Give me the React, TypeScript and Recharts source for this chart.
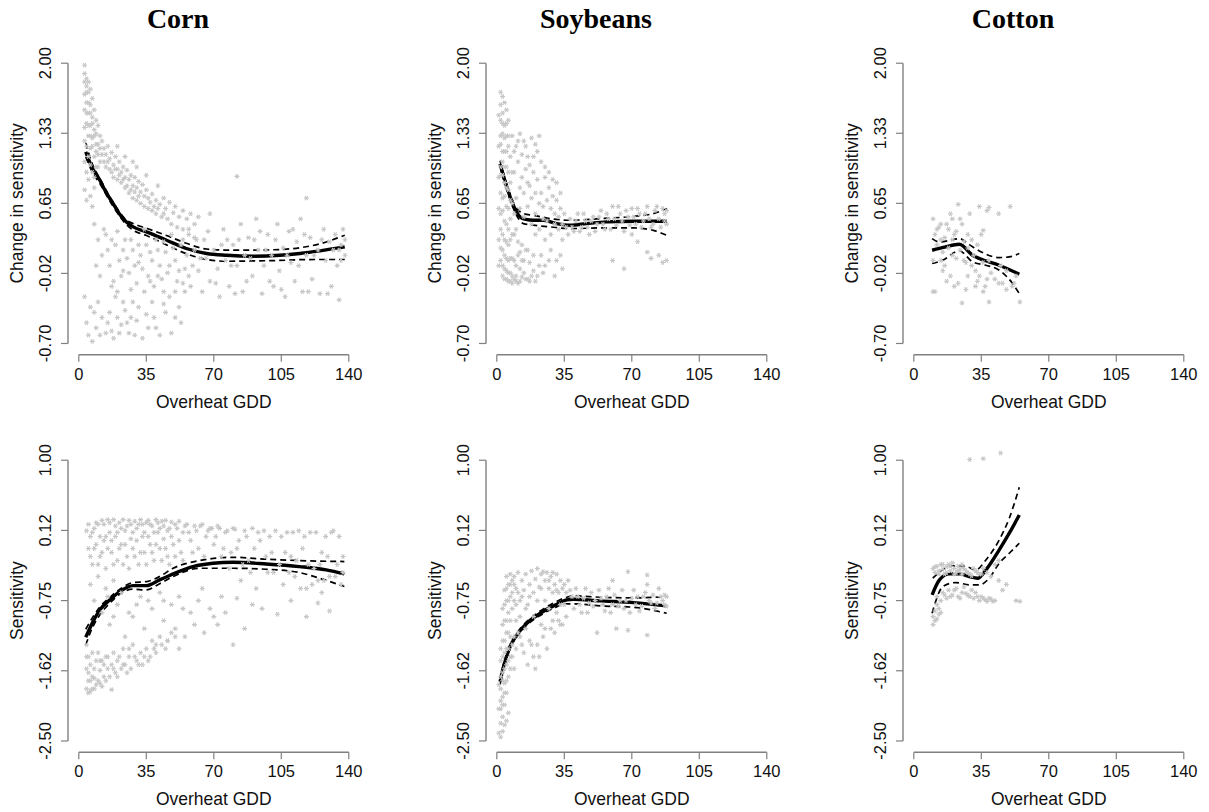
import React from "react";
import { ComposedChart, Scatter, Line, XAxis, YAxis, ReferenceLine } from "recharts";

// tick values and labels
const xTicks = [0, 35, 70, 105, 140];
const changeTicks = [-0.7, -0.025, 0.65, 1.325, 2.0];
const changeLabels = ["-0.70", "-0.02", "0.65", "1.33", "2.00"];
const sensTicks = [-2.5, -1.625, -0.75, 0.125, 1.0];
const sensLabels = ["-2.50", "-1.62", "-0.75", "0.12", "1.00"];
const crops = ["Corn", "Soybeans", "Cotton"];

type Pt = [number, number];

// ---- Change in sensitivity (top row) ----
const cornChangePoints: Pt[] = [
  [3, 1.98], [3, 1.9], [4, 1.85], [4, 1.78], [5, 1.82], [3, 1.7], [5, 1.72], [6, 1.75], [4, 1.62], [6, 1.6],
  [7, 1.66], [3, 1.55], [5, 1.52], [8, 1.55], [7, 1.48], [4, 1.42], [6, 1.4], [9, 1.45], [8, 1.36], [10, 1.4],
  [5, 1.3], [7, 1.28], [11, 1.3], [9, 1.22], [12, 1.25], [4, 1.2], [6, 1.18], [3, 1.05], [4, 0.95], [5, 0.88],
  [3, 0.78], [6, 0.72], [4, 0.68], [7, 0.62], [8, 0.8], [9, 1.0], [10, 1.12], [11, 1.05],
  [3, 1.82], [4, 1.72], [5, 1.62], [6, 1.52], [7, 1.42], [8, 1.3], [9, 1.32], [10, 1.22], [11, 1.18], [12, 1.12],
  [13, 1.05], [5, 1.1], [6, 1.02], [7, 0.95], [8, 0.9], [5, 1.4], [6, 1.3], [7, 1.2], [8, 1.1], [9, 1.15],
  [10, 1.0], [4, 1.52], [3, 1.38], [3, 1.25],
  [13, 1.18], [14, 1.12], [15, 1.2], [16, 1.08], [17, 1.14], [18, 1.02], [19, 1.1], [20, 0.98], [21, 1.05], [22, 0.95],
  [23, 1.0], [24, 0.9], [25, 0.97], [26, 0.88], [27, 0.92], [28, 0.82], [29, 0.9], [30, 0.8], [31, 0.86], [32, 0.76],
  [33, 0.83], [34, 0.72], [35, 0.78], [36, 0.7], [38, 0.74], [40, 0.68], [41, 0.82], [42, 0.64], [44, 0.7], [45, 0.6],
  [47, 0.66], [49, 0.56], [50, 0.62], [52, 0.52], [54, 0.58], [56, 0.5], [58, 0.55], [60, 0.45], [62, 0.52], [20, 1.2],
  [24, 1.1], [30, 1.0], [28, 1.05], [35, 0.92],
  [14, 1.0], [16, 0.98], [18, 0.9], [20, 0.88], [22, 0.85], [24, 0.8], [26, 0.75], [28, 0.7], [30, 0.68], [32, 0.65],
  [34, 0.62], [36, 0.6], [38, 0.58], [40, 0.55], [43, 0.52], [46, 0.5], [48, 0.45], [51, 0.42], [54, 0.4], [57, 0.35],
  [60, 0.32], [15, 1.05], [17, 0.95], [19, 0.98], [21, 0.92], [23, 0.88], [25, 0.82], [27, 0.78], [29, 0.76], [31, 0.72],
  [37, 0.66], [39, 0.62], [41, 0.6], [44, 0.55],
  [8, 0.45], [10, 0.3], [12, 0.15], [9, 0.05], [11, -0.05], [14, 0.35], [15, 0.2], [16, 0.05], [18, -0.1], [19, 0.25],
  [21, 0.1], [22, -0.05], [24, 0.3], [25, 0.12], [26, -0.02], [28, 0.2], [29, 0.05], [30, -0.12], [32, 0.15], [33, 0.02],
  [35, 0.25], [36, -0.05], [38, 0.1], [39, -0.15], [40, 0.3], [42, 0.05], [43, -0.08], [45, 0.18], [46, -0.02], [48, 0.35],
  [50, 0.1], [51, -0.1], [53, 0.25], [55, 0.02], [57, 0.4], [58, -0.15], [60, 0.2],
  [13, 0.4], [17, 0.3], [20, 0.38], [23, 0.2], [27, 0.3], [31, 0.25], [34, 0.4], [37, 0.18], [41, 0.2], [44, 0.28],
  [47, 0.05], [49, 0.22], [52, 0.0], [54, 0.3], [56, 0.15], [59, 0.05], [61, 0.3], [63, 0.12], [17, -0.15], [20, -0.2],
  [23, 0.0], [27, -0.18], [31, 0.08], [34, -0.2], [37, -0.1], [41, -0.05], [44, -0.2], [50, -0.2], [54, -0.12], [57, -0.05],
  [3, -0.25], [4, -0.5], [5, -0.62], [6, -0.35], [7, -0.68], [9, -0.55], [10, -0.3], [12, -0.45], [14, -0.6], [16, -0.4],
  [18, -0.65], [19, -0.25], [22, -0.52], [24, -0.38], [26, -0.6], [28, -0.3], [30, -0.48], [33, -0.65], [35, -0.42], [38, -0.3],
  [40, -0.55], [42, -0.62], [45, -0.4], [47, -0.25], [48, -0.6], [50, -0.45], [52, -0.35], [55, -0.2],
  [8, -0.4], [11, -0.62], [15, -0.5], [17, -0.58], [20, -0.45], [21, -0.6], [23, -0.3], [25, -0.5], [27, -0.45], [29, -0.62],
  [31, -0.35], [36, -0.55], [39, -0.45], [44, -0.32], [53, -0.5],
  [62, 0.0], [64, -0.2], [65, 0.3], [66, 0.12], [68, 0.55], [68, -0.1], [70, 0.2], [72, 0.02], [73, -0.25], [75, 0.4],
  [76, 0.1], [82, 0.91], [78, -0.15], [80, 0.25], [82, 0.05], [84, 0.45], [85, -0.2], [86, 0.15], [88, 0.32], [90, -0.05],
  [92, 0.5], [93, 0.2], [95, -0.22], [96, 0.05], [98, 0.35], [100, 0.15], [101, -0.15], [103, 0.45], [104, 0.0], [106, 0.22],
  [107, -0.25], [109, 0.38], [110, 0.08], [112, -0.1], [113, 0.28], [115, 0.5], [116, -0.2], [118, 0.15], [120, 0.32], [121, -0.08],
  [118, 0.7], [124, 0.2], [125, -0.22], [127, 0.4], [128, 0.1], [130, 0.28], [131, -0.15], [133, 0.35], [134, 0.05], [135, -0.28],
  [136, 0.25], [137, 0.4], [138, 0.15], [135, 0.2],
  [67, 0.38], [71, -0.12], [74, 0.25], [77, 0.3], [79, 0.05], [81, -0.22], [83, 0.3], [87, -0.1], [89, 0.12], [91, 0.3],
  [94, 0.38], [97, 0.2], [99, -0.1], [102, 0.3], [105, -0.18], [108, 0.15], [111, 0.4], [114, 0.05], [117, 0.35], [119, -0.2],
  [122, 0.15], [126, 0.3], [129, -0.22], [132, 0.2], [136, 0.1], [138, 0.3],
];
const cornChangeFit: Pt[] = [
  [3.6, 1.145], [7, 0.99], [10.9, 0.873], [14, 0.76], [17.8, 0.648], [21, 0.55], [24.7, 0.471], [28.2, 0.423], [35.1, 0.375],
  [45.5, 0.295], [55.8, 0.215], [66.2, 0.167], [76.6, 0.15], [90.4, 0.141], [104.2, 0.15], [114.6, 0.167], [125, 0.192], [137.9, 0.23],
];
const cornChangeUpper: Pt[] = [
  [3.6, 1.232], [7, 1.03], [10.9, 0.89], [17.8, 0.66], [24.7, 0.49], [28.2, 0.455], [35.1, 0.41], [45.5, 0.34], [55.8, 0.265],
  [66.2, 0.21], [76.6, 0.2], [90.4, 0.2], [104.2, 0.205], [114.6, 0.222], [125, 0.26], [137.9, 0.343],
];
const cornChangeLower: Pt[] = [
  [3.6, 1.097], [7, 0.95], [10.9, 0.84], [17.8, 0.62], [24.7, 0.445], [28.2, 0.39], [35.1, 0.34], [45.5, 0.25], [55.8, 0.165],
  [66.2, 0.11], [76.6, 0.092], [90.4, 0.095], [104.2, 0.1], [114.6, 0.107], [125, 0.109], [137.9, 0.109],
];

const soyChangePoints: Pt[] = [
  [2, 1.72], [3, 1.68], [2, 1.6], [4, 1.62], [3, 1.52], [5, 1.55], [2, 1.45], [4, 1.4], [6, 1.45], [3, 1.32],
  [5, 1.3], [2, 1.22], [4, 1.15], [6, 1.2], [3, 1.05], [5, 1.0], [7, 1.1], [2, 0.92], [4, 0.85], [6, 0.78],
  [3, 0.7], [5, 0.62], [7, 0.68], [2, 0.55], [4, 0.48], [6, 0.4], [3, 0.35], [5, 0.28], [7, 0.3], [2, 0.22],
  [4, 0.15], [6, 0.1], [3, 0.05], [5, 0.0], [7, -0.02], [4, -0.08], [6, -0.1], [8, -0.05], [9, -0.08], [10, -0.1],
  [11, -0.12], [12, -0.1], [13, -0.06], [14, -0.02], [16, -0.08], [18, -0.05], [20, -0.1], [8, 0.12], [10, 0.05], [12, 0.18],
  [9, 0.35], [11, 0.28], [13, 0.1], [15, 0.2], [17, 0.08], [19, 0.15], [22, 0.05], [24, -0.02], [27, 0.1], [30, -0.05], [33, 0.15],
  [1, 1.5], [1, 1.2], [1, 0.9], [1, 0.6], [1, 0.3], [1, 0.05], [2, 1.3], [2, 1.0], [2, 0.75], [2, 0.4],
  [2, 0.1], [3, 1.42], [3, 1.15], [3, 0.92], [3, 0.58], [3, 0.2], [3, -0.05], [4, 1.28], [4, 1.0], [4, 0.72],
  [4, 0.3], [4, 0.02], [5, 1.42], [5, 1.15], [5, 0.8], [5, 0.45], [5, 0.12], [5, -0.08], [6, 1.3], [6, 0.95],
  [6, 0.6], [6, 0.25], [6, -0.02], [7, 0.85], [7, 0.5], [7, 0.12], [7, -0.1], [8, 0.95], [8, 0.65], [8, 0.35],
  [8, -0.12], [9, 0.55], [9, 0.1], [10, 0.4], [10, -0.05], [11, 0.15], [12, 0.02], [13, 0.25], [14, 0.1], [15, -0.08],
  [16, 0.2], [17, -0.1], [19, 0.0], [21, -0.05], [23, 0.15], [25, 0.05], [28, 0.2], [31, 0.1], [34, 0.02],
  [8, 1.3], [10, 1.2], [12, 1.32], [14, 1.25], [16, 1.1], [18, 1.28], [20, 1.22], [22, 1.3], [9, 0.95], [11, 1.05],
  [13, 0.9], [15, 0.98], [17, 0.82], [19, 0.95], [21, 0.88], [23, 0.75], [25, 0.9], [27, 0.8], [29, 0.72], [31, 0.68],
  [33, 0.75], [10, 0.7], [12, 0.6], [14, 0.52], [16, 0.62], [18, 0.45], [20, 0.55], [22, 0.4], [24, 0.62], [26, 0.48],
  [28, 0.35], [30, 0.55], [32, 0.4], [34, 0.3], [36, 0.42],
  [9, 1.15], [11, 1.25], [13, 1.12], [15, 1.2], [17, 1.02], [19, 1.1], [21, 1.15], [23, 1.05], [25, 1.0], [27, 0.95],
  [29, 0.88], [31, 0.85], [33, 0.6], [35, 0.55], [12, 0.8], [14, 0.75], [16, 0.85], [18, 0.7], [20, 0.75], [22, 0.65],
  [24, 0.5], [26, 0.68], [28, 0.6], [30, 0.45], [32, 0.52], [34, 0.45], [20, 0.35], [25, 0.3],
  [38, 0.5], [40, 0.38], [42, 0.55], [44, 0.42], [46, 0.48], [48, 0.35], [50, 0.52], [52, 0.45], [54, 0.58], [56, 0.4],
  [58, 0.5], [60, 0.62], [62, 0.44], [64, 0.55], [66, 0.38], [68, 0.52], [70, 0.6], [72, 0.45], [74, 0.55], [76, 0.48],
  [78, 0.62], [80, 0.42], [82, 0.58], [84, 0.5], [86, 0.6], [88, 0.45], [87, 0.55],
  [37, 0.35], [39, 0.42], [41, 0.48], [43, 0.38], [45, 0.55], [47, 0.42], [49, 0.48], [51, 0.38], [53, 0.52], [55, 0.45],
  [57, 0.55], [59, 0.4], [61, 0.5], [63, 0.62], [65, 0.48], [67, 0.58], [69, 0.44], [71, 0.52], [73, 0.6], [75, 0.42],
  [77, 0.55], [79, 0.5], [81, 0.45], [83, 0.62], [85, 0.42], [87, 0.48], [88, 0.58],
  [60, 0.1], [66, 0.02], [73, 0.28], [78, 0.18], [80, 0.12], [84, 0.15], [86, 0.08], [88, 0.1], [70, 0.35],
];
const soyChangeFit: Pt[] = [
  [1.7, 1.032], [5.2, 0.807], [8.6, 0.631], [12.1, 0.519], [15, 0.495], [19, 0.487], [24.2, 0.487], [31.1, 0.455],
  [38, 0.439], [46.7, 0.455], [57, 0.471], [70.9, 0.477], [88.1, 0.477],
];
const soyChangeUpper: Pt[] = [
  [1.7, 1.06], [5.2, 0.83], [8.6, 0.66], [13.8, 0.55], [19, 0.535], [27.7, 0.503], [38, 0.487], [53.6, 0.503],
  [70.9, 0.525], [81.2, 0.551], [88.1, 0.599],
];
const soyChangeLower: Pt[] = [
  [1.7, 1.0], [5.2, 0.78], [8.6, 0.6], [13.8, 0.455], [19, 0.44], [27.7, 0.423], [38, 0.407], [53.6, 0.413],
  [70.9, 0.413], [81.2, 0.39], [88.1, 0.342],
];

const cottonChangePoints: Pt[] = [
  [10, 0.5], [11, 0.35], [12, 0.25], [10, 0.1], [11, -0.2], [13, 0.42], [14, 0.3], [15, 0.18], [16, 0.05], [17, 0.45],
  [18, 0.22], [19, -0.05], [20, 0.5], [21, 0.35], [22, 0.12], [23, -0.12], [23, 0.64], [25, 0.45], [26, 0.28], [27, 0.08],
  [28, -0.05], [29, 0.55], [30, 0.3], [31, 0.15], [32, 0.0], [33, -0.1], [34, 0.62], [35, 0.35], [36, 0.08], [37, -0.15],
  [38, 0.58], [39, 0.1], [40, -0.02], [39, 0.61], [42, -0.08], [44, 0.55], [45, 0.05], [46, -0.12], [48, 0.0], [50, 0.62],
  [51, -0.15], [53, -0.05], [55, -0.3], [25, -0.31], [10, -0.2], [39, -0.3], [14, 0.1], [20, 0.15], [28, 0.22], [36, 0.39],
  [12, 0.4], [14, 0.45], [16, 0.32], [18, 0.4], [20, 0.3], [22, 0.38], [24, 0.2], [26, 0.1], [28, 0.35], [30, 0.05],
  [32, -0.15], [34, -0.05], [36, -0.2], [38, -0.08], [15, 0.0], [17, -0.1], [21, -0.15], [27, -0.18], [33, 0.25], [44, -0.12],
  [48, -0.18], [52, -0.12], [19, 0.55], [24, 0.5],
];
const cottonChangeFit: Pt[] = [
  [9.5, 0.198], [16, 0.228], [23.6, 0.256], [30.5, 0.15], [34, 0.118], [44.3, 0.054], [54.7, -0.033],
];
const cottonChangeUpper: Pt[] = [
  [9.5, 0.31], [13.3, 0.278], [18, 0.29], [23.6, 0.31], [29, 0.25], [34, 0.192], [44.3, 0.128], [49.5, 0.134], [54.7, 0.166],
];
const cottonChangeLower: Pt[] = [
  [9.5, 0.07], [15, 0.102], [23.6, 0.192], [30.5, 0.086], [37.4, 0.054], [44.3, 0.006], [51.2, -0.122], [54.7, -0.219],
];

// ---- Sensitivity (bottom row) ----
const cornSensPoints: Pt[] = [
  [4, 0.12], [5, -0.1], [6, 0.05], [7, -0.3], [8, 0.15], [9, -0.05], [10, 0.2], [11, -0.2], [12, 0.25], [13, 0.0],
  [14, -0.35], [15, 0.26], [16, 0.1], [17, -0.15], [18, 0.26], [19, 0.05], [20, -0.25], [21, 0.22], [22, -0.05], [23, 0.26],
  [24, 0.12], [25, -0.2], [26, 0.25], [27, 0.02], [28, -0.1], [29, 0.24], [30, 0.15], [31, -0.3], [32, 0.26], [33, 0.05],
  [34, -0.15], [35, 0.22], [36, 0.25], [37, -0.05], [38, 0.18], [39, -0.25], [40, 0.26], [41, 0.1], [42, -0.1], [43, 0.24],
  [44, 0.02], [45, 0.25], [46, -0.2], [47, 0.15], [48, 0.23], [49, -0.05], [50, 0.2], [52, 0.24], [53, -0.15], [54, 0.1],
  [56, 0.2], [58, 0.0], [60, 0.18], [62, -0.1], [64, 0.2], [66, 0.05], [68, 0.15], [70, -0.05], [6, -0.55], [10, -0.45],
  [14, -0.6], [18, -0.5], [8, -0.75],
  [5, 0.2], [6, -0.2], [7, 0.1], [8, -0.1], [9, 0.22], [10, -0.3], [11, 0.05], [12, -0.15], [13, 0.2], [14, 0.05],
  [15, -0.1], [16, 0.22], [17, 0.0], [18, -0.3], [19, 0.18], [20, 0.1], [21, -0.1], [22, 0.15], [23, -0.3], [24, -0.05],
  [25, 0.18], [26, -0.35], [27, 0.2], [28, 0.1], [29, -0.2], [30, 0.0], [31, 0.2], [32, -0.15], [33, 0.2], [34, 0.1],
  [35, -0.3], [36, 0.05], [37, 0.2], [38, -0.15], [39, 0.1], [40, -0.05], [41, 0.22], [42, 0.15], [43, -0.25], [44, 0.18],
  [45, -0.1], [46, 0.12], [47, -0.3], [48, 0.05], [50, -0.2], [51, 0.15], [52, 0.0], [54, -0.25], [55, 0.18], [57, 0.1],
  [59, -0.15], [61, 0.12], [63, 0.18], [65, -0.2], [67, 0.12], [69, 0.15], [71, 0.05], [73, 0.15], [75, -0.1], [77, 0.12],
  [79, -0.15], [81, 0.14], [83, 0.0], [85, -0.3], [87, 0.05], [89, -0.4], [91, -0.1], [93, 0.1], [97, -0.2], [99, 0.05],
  [101, -0.4], [105, 0.05], [107, -0.15], [109, -0.4], [111, 0.1], [113, -0.25], [115, -0.6], [117, 0.05], [119, -0.3], [121, -0.55],
  [123, 0.1], [125, -0.3], [127, -0.5], [129, -0.2], [131, 0.1], [133, -0.45], [135, 0.05], [137, -0.4],
  [72, 0.18], [74, -0.2], [76, 0.1], [78, -0.35], [80, 0.15], [82, -0.1], [84, -0.5], [86, 0.12], [88, -0.25], [90, 0.15],
  [92, -0.6], [94, 0.0], [96, 0.12], [98, -0.4], [100, -0.15], [102, 0.12], [104, -0.3], [106, -0.55], [108, 0.1], [110, -0.2],
  [112, -0.45], [114, 0.12], [116, -0.1], [118, -0.6], [120, 0.1], [122, -0.35], [124, -0.5], [126, -0.15], [128, 0.05], [130, -0.45],
  [132, 0.12], [134, -0.3], [136, -0.55], [137, -0.2], [124, -0.78], [118, -0.95], [130, -0.88], [95, -0.85], [103, -0.92], [82, -0.72],
  [86, -1.1],
  [12, -0.9], [16, -1.05], [20, -0.8], [24, -1.2], [28, -0.95], [32, -0.7], [34, -1.1], [38, -0.85], [40, -1.3], [42, -0.65],
  [44, -1.0], [46, -1.25], [48, -0.8], [50, -1.1], [52, -0.7], [55, -1.2], [58, -0.9], [60, -1.05], [62, -0.75], [65, -1.15],
  [68, -0.85], [72, -1.05], [76, -0.9], [80, -1.3],
  [15, -0.7], [18, -0.95], [22, -0.65], [26, -0.9], [30, -0.8], [36, -0.75], [44, -0.75], [54, -0.85], [64, -0.6], [70, -0.95],
  [74, -0.7], [90, -0.8], [110, -0.75], [126, -0.65],
  [4, -1.3], [4, -1.6], [4, -1.85], [5, -1.45], [5, -1.75], [5, -1.9], [6, -1.55], [6, -1.88], [7, -1.4], [7, -1.7],
  [8, -1.6], [8, -1.85], [9, -1.5], [10, -1.75], [10, -1.4], [11, -1.62], [12, -1.5], [12, -1.82], [13, -1.7], [14, -1.45],
  [15, -1.6], [17, -1.86], [17, -1.55], [18, -1.4], [19, -1.65], [20, -1.5], [22, -1.6], [23, -1.35], [24, -1.55], [26, -1.45],
  [27, -1.6], [28, -1.3], [30, -1.5], [32, -1.4], [33, -1.55], [35, -1.35], [37, -1.45], [38, -1.25], [40, -1.4], [42, -1.2],
  [45, -1.35], [48, -1.15], [52, -1.35],
  [4, -1.45], [5, -1.65], [6, -1.75], [7, -1.85], [8, -1.72], [9, -1.8], [11, -1.5], [11, -1.78], [13, -1.55], [14, -1.75],
  [15, -1.45], [16, -1.7], [18, -1.6], [20, -1.7], [21, -1.45], [23, -1.55], [25, -1.65], [26, -1.35], [29, -1.45], [31, -1.55],
  [34, -1.45], [36, -1.5], [39, -1.35], [43, -1.3], [46, -1.25], [50, -1.2],
];
const cornSensFit: Pt[] = [
  [3.6, -1.207], [7.4, -1.012], [10.9, -0.866], [16.1, -0.741], [21.2, -0.638], [28.1, -0.563], [35, -0.563], [41.9, -0.492],
  [50.6, -0.401], [59.2, -0.326], [69.6, -0.284], [80, -0.272], [97.2, -0.293], [114.4, -0.326], [128.3, -0.367], [137.7, -0.417],
];
const cornSensUpper: Pt[] = [
  [3.6, -1.107], [7.4, -0.95], [10.9, -0.83], [16.1, -0.71], [21.2, -0.61], [28.1, -0.525], [35, -0.513], [41.9, -0.45],
  [48.9, -0.347], [62.7, -0.251], [80, -0.21], [97.2, -0.234], [114.4, -0.251], [137.7, -0.263],
];
const cornSensLower: Pt[] = [
  [3.6, -1.303], [7.4, -1.07], [10.9, -0.928], [16.1, -0.78], [21.2, -0.67], [28.1, -0.608], [35, -0.617], [41.9, -0.54],
  [48.9, -0.45], [62.7, -0.347], [80, -0.347], [97.2, -0.359], [114.4, -0.4], [124.8, -0.471], [137.7, -0.575],
];

const soySensPoints: Pt[] = [
  [2, -2.45], [3, -2.38], [2, -2.28], [4, -2.3], [3, -2.2], [5, -2.25], [2, -2.1], [4, -2.05], [6, -2.15], [3, -1.95],
  [5, -1.9], [2, -1.85], [4, -1.78], [6, -1.7], [3, -1.65], [5, -1.55], [7, -1.6], [2, -1.5], [4, -1.4], [6, -1.35],
  [3, -1.25], [5, -1.15], [7, -1.2], [4, -1.0], [6, -0.9], [3, -0.85], [5, -0.75], [7, -0.7], [6, -0.55], [4, -0.62],
  [8, -0.5], [5, -0.45], [7, -0.42], [8, -1.45], [9, -1.6],
  [1, -2.4], [1, -2.1], [1, -1.8], [2, -2.0], [2, -1.7], [2, -1.35], [3, -2.05], [3, -1.75], [3, -1.45], [3, -1.05],
  [4, -1.9], [4, -1.6], [4, -1.25], [4, -0.8], [5, -1.75], [5, -1.35], [5, -1.0], [5, -0.6], [6, -1.5], [6, -1.15],
  [6, -0.75], [7, -1.45], [7, -1.0], [7, -0.55], [8, -1.3], [8, -0.85], [8, -0.65], [9, -1.2], [9, -0.75], [9, -0.55],
  [10, -1.35], [10, -0.8], [11, -1.15], [11, -0.65], [13, -1.3], [13, -0.7], [15, -0.85], [17, -0.7], [17, -1.25], [19, -1.45],
  [21, -0.75], [21, -1.3], [23, -0.6], [25, -0.75], [25, -1.1], [27, -0.5], [29, -0.65], [29, -1.0], [31, -0.62], [33, -0.8],
  [33, -1.05], [36, -0.65], [37, -0.5],
  [9, -0.45], [10, -0.6], [11, -0.4], [12, -0.75], [13, -0.5], [14, -0.62], [15, -0.42], [16, -0.8], [17, -0.55], [18, -0.38],
  [19, -0.65], [20, -0.48], [21, -0.35], [22, -0.58], [23, -0.42], [24, -0.39], [25, -0.5], [26, -0.4], [27, -0.6], [28, -0.45],
  [29, -0.4], [30, -0.55], [31, -0.42], [32, -0.65], [33, -0.5], [34, -0.6], [35, -0.55], [10, -1.0], [12, -1.2], [14, -1.4],
  [16, -1.55], [18, -1.3], [20, -1.6], [22, -1.45], [24, -1.2], [26, -1.35], [28, -1.1], [30, -1.15], [32, -1.0], [34, -1.05],
  [36, -0.95], [12, -0.95], [15, -1.1], [19, -0.95], [23, -1.05], [27, -0.85], [31, -0.9], [35, -0.8],
  [38, -0.62], [40, -0.85], [42, -0.7], [44, -0.9], [46, -0.6], [48, -0.78], [50, -0.82], [52, -1.15], [54, -0.72], [56, -0.88],
  [58, -0.6], [60, -0.8], [62, -1.1], [64, -0.75], [66, -0.85], [68, -1.12], [70, -0.72], [72, -0.8], [74, -0.88], [76, -0.7],
  [78, -0.55], [78, -1.18], [80, -0.78], [82, -0.85], [84, -0.6], [86, -0.75], [88, -0.82], [87, -0.68], [68, -0.39], [78, -0.43],
  [60, -0.5],
  [39, -0.7], [41, -0.6], [43, -0.8], [45, -0.72], [47, -0.9], [49, -0.65], [51, -0.75], [53, -0.62], [55, -0.8], [57, -0.7],
  [59, -0.9], [61, -0.68], [63, -0.82], [65, -0.62], [67, -0.75], [69, -0.9], [71, -0.62], [73, -0.7], [75, -0.82], [77, -0.65],
  [79, -0.75], [81, -0.68], [83, -0.78], [85, -0.7], [87, -0.8], [88, -0.7],
];
const soySensFit: Pt[] = [
  [1.7, -1.76], [3.5, -1.573], [6.9, -1.323], [10.4, -1.178], [15.6, -1.032], [22.5, -0.908], [29.4, -0.816], [36.3, -0.741],
  [39.7, -0.733], [53.6, -0.754], [70.9, -0.775], [88.1, -0.816],
];
const soySensUpper: Pt[] = [
  [1.7, -1.72], [3.5, -1.54], [6.9, -1.3], [10.4, -1.155], [15.6, -1.01], [22.5, -0.88], [29.4, -0.78], [36.3, -0.708],
  [39.7, -0.692], [53.6, -0.708], [70.9, -0.717], [88.1, -0.7],
];
const soySensLower: Pt[] = [
  [1.7, -1.8], [3.5, -1.6], [6.9, -1.35], [10.4, -1.2], [15.6, -1.055], [22.5, -0.935], [29.4, -0.845], [36.3, -0.791],
  [39.7, -0.79], [53.6, -0.816], [70.9, -0.833], [88.1, -0.908],
];

const cottonSensPoints: Pt[] = [
  [10, -0.35], [11, -0.4], [12, -0.32], [13, -0.38], [14, -0.3], [15, -0.36], [16, -0.42], [17, -0.33], [18, -0.3], [19, -0.38],
  [20, -0.28], [21, -0.35], [22, -0.4], [23, -0.32], [24, -0.36], [25, -0.42], [26, -0.35], [28, -0.4], [30, -0.44], [32, -0.38],
  [34, -0.42], [36, -0.35], [38, -0.4], [40, -0.45], [42, -0.3], [44, -0.25],
  [11, -0.33], [13, -0.42], [15, -0.3], [17, -0.4], [19, -0.32], [21, -0.42], [23, -0.38], [25, -0.3], [27, -0.38], [29, -0.42],
  [31, -0.35], [33, -0.4], [35, -0.42],
  [12, -0.7], [14, -0.75], [15, -0.65], [17, -0.72], [18, -0.62], [20, -0.68], [22, -0.6], [23, -0.7], [25, -0.65], [26, -0.58],
  [28, -0.68], [30, -0.62], [31, -0.72], [33, -0.7], [34, -0.75], [36, -0.72], [38, -0.76], [40, -0.73], [42, -0.75], [46, -0.62],
  [48, -0.55], [53, -0.75], [55, -0.76], [44, -0.5],
  [16, -0.68], [19, -0.7], [21, -0.62], [24, -0.72], [27, -0.66], [29, -0.7], [32, -0.65], [35, -0.7], [37, -0.74], [39, -0.72],
  [41, -0.76], [12, -0.8], [13, -0.92],
  [10, -0.95], [10, -1.05], [11, -0.88], [12, -0.98], [13, -0.85], [14, -0.9], [11, -1.0],
  [29, 1.01], [36, 1.02], [45, 1.09],
];
const cottonSensFit: Pt[] = [
  [9.5, -0.679], [13.3, -0.492], [18.4, -0.417], [23.6, -0.417], [28.8, -0.45], [33.1, -0.471], [37.4, -0.367], [44.3, -0.118],
  [49.5, 0.09], [54.7, 0.318],
];
const cottonSensUpper: Pt[] = [
  [9.8, -0.471], [15, -0.367], [20.2, -0.318], [27.1, -0.326], [32.2, -0.367], [37.4, -0.243], [44.3, 0.007], [49.5, 0.277], [54.7, 0.663],
];
const cottonSensLower: Pt[] = [
  [9.5, -0.908], [11.6, -0.742], [15, -0.575], [21.9, -0.525], [28.8, -0.554], [33.9, -0.554], [39.1, -0.471], [44.3, -0.284],
  [49.5, -0.16], [54.7, -0.035],
];

// layout (px)
const PLOT_LEFT = [68.2, 486.2, 903.2];
const TITLE_X = [178, 596, 1013];
const PLOT_W = 291.6;
const Y_AXIS_W = 102;
const X_AXIS_H = 94;
const M_TOP = 10;
const M_RIGHT = 10;
const AXIS_GREY = "#808080";
const TEXT = "#111";
const SANS = "'Liberation Sans', Arial, sans-serif";

const toXY = (pts: Pt[]) => pts.map(([x, y]) => ({ x, y }));

const Star = (props: any) => {
  const { cx, cy } = props;
  if (cx == null || cy == null) return null;
  const r = 2.5;
  return (
    <g stroke="#c6c6c6" strokeWidth={1.1}>
      <line x1={cx - r} y1={cy} x2={cx + r} y2={cy} />
      <line x1={cx - r * 0.5} y1={cy - r * 0.87} x2={cx + r * 0.5} y2={cy + r * 0.87} />
      <line x1={cx + r * 0.5} y1={cy - r * 0.87} x2={cx - r * 0.5} y2={cy + r * 0.87} />
    </g>
  );
};

const XTick = (props: any) => {
  const { x, y, payload } = props;
  return (
    <text x={x} y={y + 10.5} dy="0.35em" textAnchor="middle" fontSize={16.5} fontFamily={SANS} fill={TEXT}>
      {payload.value}
    </text>
  );
};

const makeYTick = (ticks: number[], labels: string[]) => (props: any) => {
  const { x, y, payload } = props;
  const i = ticks.indexOf(payload.value);
  return (
    <g transform={`translate(${x - 14},${y}) rotate(-90)`}>
      <text x={0} y={0} dy="0.35em" textAnchor="middle" fontSize={16.5} fontFamily={SANS} fill={TEXT}>
        {i >= 0 ? labels[i] : payload.value}
      </text>
    </g>
  );
};

interface PanelProps {
  col: number;
  plotTop: number;
  plotH: number;
  yDomain: [number, number];
  yTicks: number[];
  yLabels: string[];
  yTitle: string;
  points: Pt[];
  fit: Pt[];
  upper: Pt[];
  lower: Pt[];
}

function Panel({ col, plotTop, plotH, yDomain, yTicks, yLabels, yTitle, points, fit, upper, lower }: PanelProps) {
  const xDomain: [number, number] = [-5.6, 145.6];
  const width = Y_AXIS_W + PLOT_W + M_RIGHT;
  const height = M_TOP + plotH + X_AXIS_H;
  return (
    <div style={{ position: "absolute", left: PLOT_LEFT[col] - Y_AXIS_W, top: plotTop - M_TOP }}>
      <ComposedChart width={width} height={height} margin={{ top: M_TOP, right: M_RIGHT, bottom: 0, left: 0 }}>
        <XAxis
          type="number"
          dataKey="x"
          domain={xDomain}
          ticks={xTicks}
          interval={0}
          allowDataOverflow
          height={X_AXIS_H}
          axisLine={false}
          tickLine={{ stroke: AXIS_GREY, strokeWidth: 1.2 }}
          tickSize={7}
          tickMargin={2}
          tick={<XTick />}
          label={{ value: "Overheat GDD", position: "center", fill: TEXT, fontSize: 17.5, fontFamily: SANS }}
        />
        <YAxis
          type="number"
          dataKey="y"
          domain={yDomain}
          ticks={yTicks}
          interval={0}
          allowDataOverflow
          width={Y_AXIS_W}
          axisLine={false}
          tickLine={{ stroke: AXIS_GREY, strokeWidth: 1.2 }}
          tickSize={7}
          tickMargin={2}
          tick={makeYTick(yTicks, yLabels)}
          label={{ value: yTitle, angle: -90, position: "center", fill: TEXT, fontSize: 17.5, fontFamily: SANS }}
        />
        <ReferenceLine
          segment={[{ x: 0, y: yDomain[0] }, { x: 140, y: yDomain[0] }]}
          stroke={AXIS_GREY}
          strokeWidth={1.4}
          ifOverflow="visible"
        />
        <ReferenceLine
          segment={[{ x: xDomain[0], y: yTicks[0] }, { x: xDomain[0], y: yTicks[yTicks.length - 1] }]}
          stroke={AXIS_GREY}
          strokeWidth={1.4}
          ifOverflow="visible"
        />
        <Scatter data={toXY(points)} shape={<Star />} isAnimationActive={false} />
        <Line data={toXY(upper)} dataKey="y" type="monotone" stroke="#000" strokeWidth={1.7} strokeDasharray="6 4" dot={false} activeDot={false} isAnimationActive={false} />
        <Line data={toXY(lower)} dataKey="y" type="monotone" stroke="#000" strokeWidth={1.7} strokeDasharray="6 4" dot={false} activeDot={false} isAnimationActive={false} />
        <Line data={toXY(fit)} dataKey="y" type="monotone" stroke="#000" strokeWidth={3.4} dot={false} activeDot={false} isAnimationActive={false} />
      </ComposedChart>
    </div>
  );
}

const TOP_ROW = { plotTop: 51.8, plotH: 302.7, yDomain: [-0.808, 2.108] as [number, number] };
const BOTTOM_ROW = { plotTop: 449.1, plotH: 303.2, yDomain: [-2.64, 1.14] as [number, number] };

const changeSeries = [
  { points: cornChangePoints, fit: cornChangeFit, upper: cornChangeUpper, lower: cornChangeLower },
  { points: soyChangePoints, fit: soyChangeFit, upper: soyChangeUpper, lower: soyChangeLower },
  { points: cottonChangePoints, fit: cottonChangeFit, upper: cottonChangeUpper, lower: cottonChangeLower },
];
const sensSeries = [
  { points: cornSensPoints, fit: cornSensFit, upper: cornSensUpper, lower: cornSensLower },
  { points: soySensPoints, fit: soySensFit, upper: soySensUpper, lower: soySensLower },
  { points: cottonSensPoints, fit: cottonSensFit, upper: cottonSensUpper, lower: cottonSensLower },
];

export default function App() {
  return (
    <div style={{ position: "absolute", left: 0, top: 0, width: 1209, height: 812, background: "#fff", overflow: "hidden" }}>
      {crops.map((c, i) => (
        <div
          key={c}
          style={{
            position: "absolute",
            left: TITLE_X[i],
            top: 4.6,
            transform: "translateX(-50%)",
            fontFamily: "'Liberation Serif', 'Times New Roman', serif",
            fontWeight: 700,
            fontSize: 28,
            lineHeight: "28px",
            color: "#000",
            whiteSpace: "nowrap",
          }}
        >
          {c}
        </div>
      ))}
      {changeSeries.map((s, i) => (
        <Panel
          key={`c${i}`}
          col={i}
          {...TOP_ROW}
          yTicks={changeTicks}
          yLabels={changeLabels}
          yTitle="Change in sensitivity"
          {...s}
        />
      ))}
      {sensSeries.map((s, i) => (
        <Panel
          key={`s${i}`}
          col={i}
          {...BOTTOM_ROW}
          yTicks={sensTicks}
          yLabels={sensLabels}
          yTitle="Sensitivity"
          {...s}
        />
      ))}
    </div>
  );
}
